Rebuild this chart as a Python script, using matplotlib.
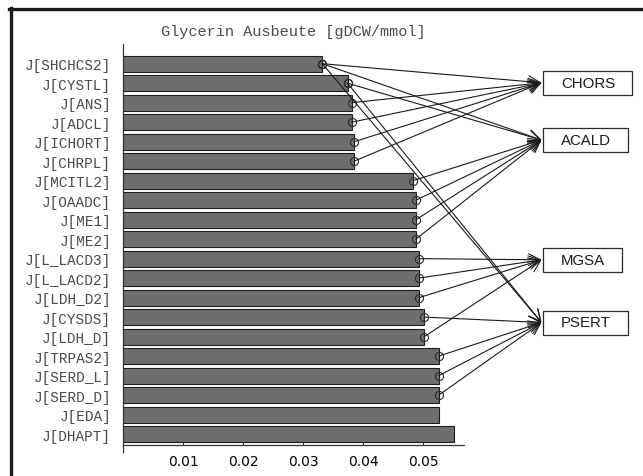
import matplotlib
matplotlib.use("Agg")
import matplotlib.pyplot as plt
from matplotlib.patches import Rectangle, ConnectionPatch
from matplotlib.lines import Line2D

# ---- data ----
reactions = ["SHCHCS2", "CYSTL", "ANS", "ADCL", "ICHORT", "CHRPL", "MCITL2",
             "OAADC", "ME1", "ME2", "L_LACD3", "L_LACD2", "LDH_D2", "CYSDS",
             "LDH_D", "TRPAS2", "SERD_L", "SERD_D", "EDA", "DHAPT"]
yields = [0.0332, 0.0374, 0.0381, 0.0381, 0.0385, 0.0385, 0.0483,
          0.0488, 0.0488, 0.0488, 0.0493, 0.0493, 0.0493, 0.0502,
          0.0502, 0.0526, 0.0526, 0.0526, 0.0526, 0.0551]
targets = ["CHORS", "ACALD", "MGSA", "PSERT"]
links = {
    "CHORS": ["SHCHCS2", "ANS", "ADCL", "ICHORT", "CHRPL"],
    "ACALD": ["SHCHCS2", "CYSTL", "MCITL2", "OAADC", "ME1", "ME2"],
    "MGSA": ["L_LACD3", "L_LACD2", "LDH_D2", "LDH_D"],
    "PSERT": ["SHCHCS2", "CYSTL", "CYSDS", "TRPAS2", "SERD_L", "SERD_D"],
}
xticks = [0.01, 0.02, 0.03, 0.04, 0.05]
title = "Glycerin Ausbeute [gDCW/mmol]"

# ---- layout ----
W, H = 643, 477
fig = plt.figure(figsize=(W / 100, H / 100), dpi=100)
mono = ["Liberation Mono", "DejaVu Sans Mono"]
txtcol = "#4a4a4a"

ax = fig.add_axes([123 / W, (H - 453) / H, (464 - 123) / W, (453 - 45) / H])
ypos = list(range(len(reactions)))
labels = ["J[%s]" % r for r in reactions]
ax.barh(ypos, yields, height=0.82, color="#6e6e71", edgecolor="#1e1e1e",
        linewidth=0.8, zorder=2)
ax.set_yticks(ypos)
ax.set_yticklabels(labels, fontfamily=mono, fontsize=10.4, color=txtcol)
ax.set_ylim(19.92, -1.01)
ax.set_xlim(0, 0.0568)
ax.set_xticks(xticks)
ax.set_xticklabels(["%.2f" % v for v in xticks], fontfamily=mono,
                   fontsize=10.4, color=txtcol)
ax.tick_params(axis="y", length=0, pad=8.5)
ax.tick_params(axis="x", direction="in", length=3.5, width=0.8,
               color="#333333", pad=6.5)
for s in ("top", "right"):
    ax.spines[s].set_visible(False)
ax.spines["bottom"].set_position(("data", 19.55))
for s in ("left", "bottom"):
    ax.spines[s].set_color("#333333")
    ax.spines[s].set_linewidth(0.9)

# overlay in pixel coordinates
ov = fig.add_axes([0, 0, 1, 1], zorder=5)
ov.set_xlim(0, W)
ov.set_ylim(H, 0)
ov.axis("off")
ov.patch.set_alpha(0)

ov.text(293.5, 32, title, ha="center", va="center", fontfamily=mono,
        fontsize=11, color=txtcol)

# frame
ov.add_line(Line2D([9, W], [10, 10], lw=2.4, color="#1a1a1a"))
ov.add_line(Line2D([10.5, 10.5], [9, H], lw=2.4, color="#1a1a1a"))

box_left = 543
box_mid = {"CHORS": 83.8, "ACALD": 141.0, "MGSA": 260.8, "PSERT": 323.5}
box_h = 24

fig.canvas.draw()
renderer = fig.canvas.get_renderer()
for t in targets:
    tx = ov.text(box_left + 18, box_mid[t], t, ha="left", va="center",
                 fontfamily=["Liberation Sans", "DejaVu Sans"], fontsize=10.8,
                 color="#1a1a1a", zorder=6)
    ext = tx.get_window_extent(renderer)
    bw = ext.width + 35
    ov.add_patch(Rectangle((box_left, box_mid[t] - box_h / 2), bw, box_h,
                           facecolor="white", edgecolor="#2a2a2a", lw=0.9,
                           zorder=5))

# connections
for t in targets:
    for r in links[t]:
        i = reactions.index(r)
        x0, y0 = yields[i], i
        ax.plot([x0], [y0], marker="o", ms=5.8, mfc="none", mec="#2a2a2a",
                mew=0.8, zorder=4, clip_on=False)
        cp = ConnectionPatch(xyA=(x0, y0), coordsA=ax.transData,
                             xyB=(box_left - 1.5, box_mid[t]),
                             coordsB=ov.transData,
                             arrowstyle="->,head_length=0.6,head_width=0.3",
                             mutation_scale=14, lw=0.8, color="#1a1a1a",
                             shrinkA=0, shrinkB=0, zorder=4)
        fig.add_artist(cp)

fig.savefig("out.png", dpi=100)
